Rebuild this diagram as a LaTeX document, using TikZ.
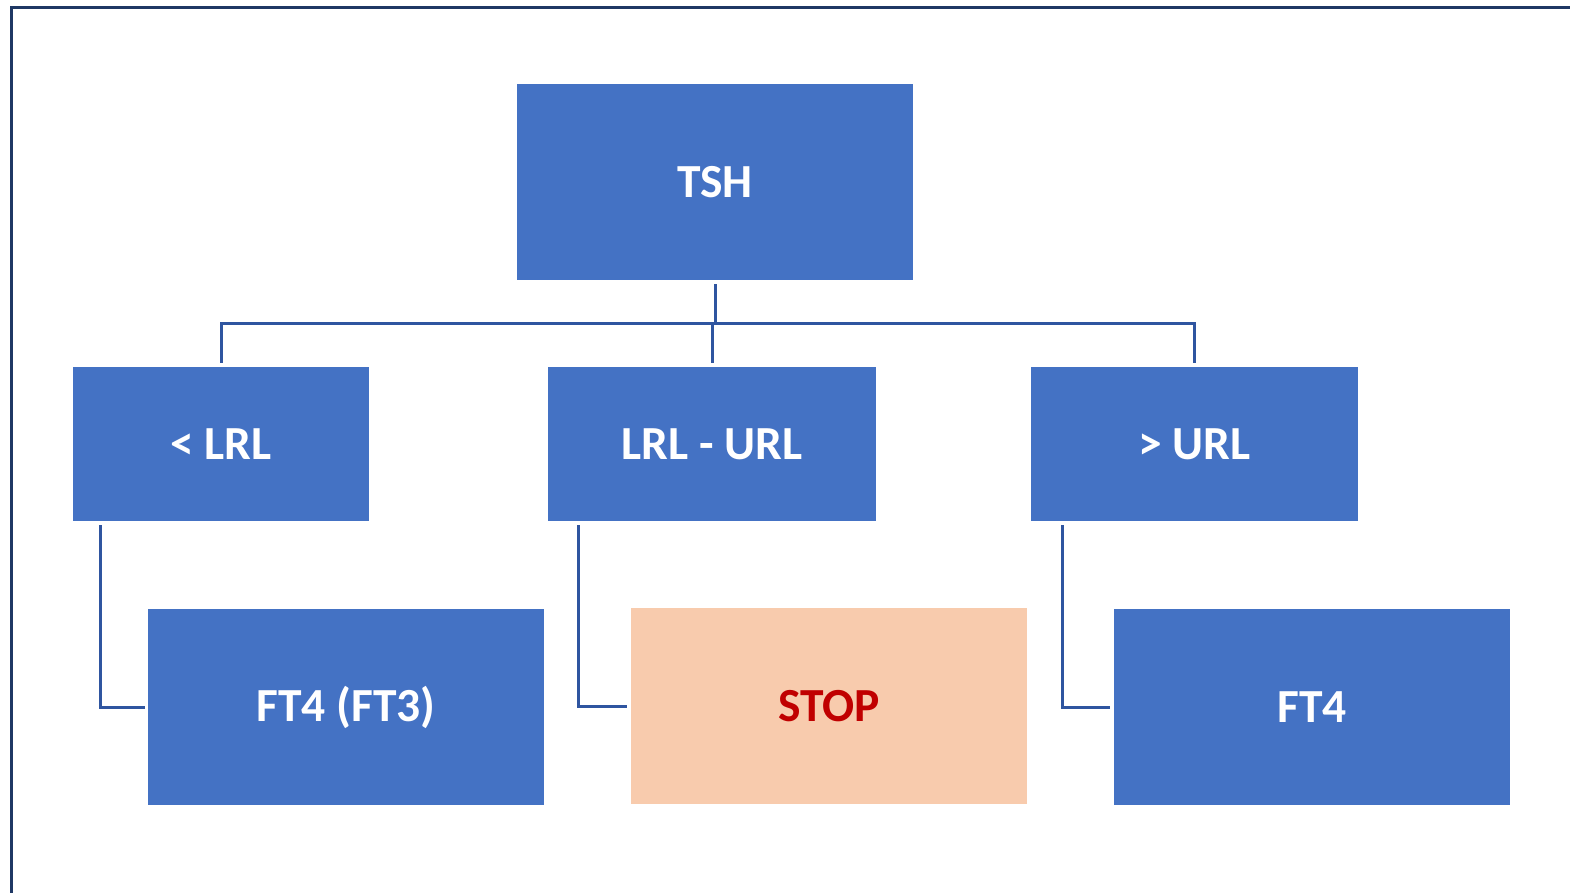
\documentclass[tikz,border=0pt]{standalone}
\usepackage{fontspec}
\setmainfont{Carlito}
\definecolor{boxblue}{HTML}{4472C4}
\definecolor{linkblue}{HTML}{2F55A0}
\definecolor{framenavy}{HTML}{1F3864}
\definecolor{stopfill}{HTML}{F8CBAD}
\definecolor{stopred}{HTML}{C00000}
\tikzset{
  bluebox/.style={rectangle, fill=boxblue, inner sep=0pt, text=white,
    font=\fontsize{47.5}{57}\selectfont\bfseries},
  stopbox/.style={bluebox, fill=stopfill, text=stopred},
  conn/.style={draw=linkblue, line width=3pt, line join=miter},
}
\begin{document}
\begin{tikzpicture}[x=1pt, y=-1pt]
\useasboundingbox (0,0) rectangle (1570,893);
% outer frame (only top and left edges fall inside the page)
\draw[framenavy, line width=2.8pt] (11.5,900) -- (11.5,7.5) -- (1580,7.5);

% level 0
\node[bluebox, minimum width=396pt, minimum height=196pt] (tsh) at (715,182) {TSH};
% level 1
\node[bluebox, minimum width=296pt, minimum height=154pt] (lrl) at (221,444) {< LRL};
\node[bluebox, minimum width=328pt, minimum height=154pt] (mid) at (712,444) {LRL - URL};
\node[bluebox, minimum width=327pt, minimum height=154pt] (url) at (1194.5,444) {> URL};
% level 2
\node[bluebox, minimum width=396pt, minimum height=196pt] (ft43) at (346,707) {FT4 (FT3)};
\node[stopbox, minimum width=396pt, minimum height=196pt] (stop) at (829,706) {STOP};
\node[bluebox, minimum width=396pt, minimum height=196pt] (ft4) at (1312,707) {FT4};

% tree connectors
\coordinate (bar) at (715,323);
\draw[conn] ([yshift=-4pt]tsh.south) -- (tsh.south |- bar);
\draw[conn] ([yshift=4pt]lrl.north) -- (lrl.north |- bar) -- (url.north |- bar) -- ([yshift=4pt]url.north);
\draw[conn] ([yshift=4pt]mid.north) -- (mid.north |- bar);

\draw[conn] ([xshift=28pt,yshift=-4pt]lrl.south west) |- ([xshift=-3pt]ft43.west);
\draw[conn] ([xshift=31pt,yshift=-4pt]mid.south west) |- ([xshift=-4pt]stop.west);
\draw[conn] ([xshift=32pt,yshift=-4pt]url.south west) |- ([xshift=-4pt]ft4.west);
\end{tikzpicture}
\end{document}
